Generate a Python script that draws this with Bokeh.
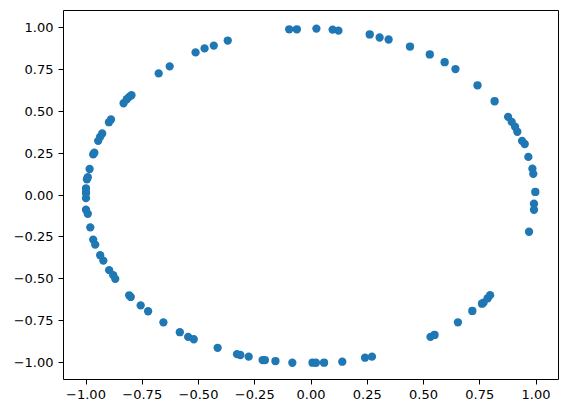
from bokeh.plotting import figure
from bokeh.models import FixedTicker, CustomJSTickFormatter, Range1d
from bokeh.embed import file_html
from bokeh.resources import INLINE

xs = [-0.097, -0.063, -0.370, -0.432, -0.473, -0.513, -0.628, -0.677,
      -0.798, -0.808, -0.819, -0.833, -0.889, -0.898, -0.928, -0.937, -0.946,
      -0.963, -0.968, -0.984, -0.992, -0.996, -1.000, -1.000, -1.000, -1.000,
      -1.000, -0.992, -0.981, -0.968, -0.959, -0.937, -0.923, -0.897, -0.879,
      -0.870, -0.808, -0.801, -0.757, -0.724, -0.656, -0.583, -0.546, -0.521,
      -0.415, -0.329, -0.314, -0.277, -0.215, -0.205, -0.158, -0.083,
      0.007, 0.022, 0.058, 0.139, 0.240, 0.271, 0.531, 0.549, 0.653, 0.717,
      0.760, 0.767, 0.785, 0.796, 0.969, 0.991, 0.991, 0.997,
      0.024, 0.096, 0.122, 0.261, 0.305, 0.345, 0.440, 0.528, 0.594, 0.642,
      0.740, 0.816, 0.876, 0.892, 0.907, 0.917, 0.938, 0.950, 0.966, 0.984,
      0.988]
ys = [0.988, 0.988, 0.921, 0.891, 0.874, 0.850, 0.767, 0.725,
      0.595, 0.585, 0.571, 0.547, 0.450, 0.434, 0.367, 0.347, 0.323,
      0.252, 0.242, 0.155, 0.106, 0.094, 0.040, 0.017, 0.011, -0.019,
      -0.088, -0.112, -0.193, -0.266, -0.296, -0.359, -0.391, -0.448, -0.478,
      -0.500, -0.598, -0.608, -0.658, -0.693, -0.759, -0.818, -0.846, -0.860,
      -0.911, -0.949, -0.954, -0.964, -0.984, -0.984, -0.990, -1.000,
      -1.000, -1.000, -1.000, -0.994, -0.970, -0.964, -0.846, -0.834, -0.759, -0.691,
      -0.648, -0.642, -0.616, -0.597, -0.219, -0.052, -0.088, 0.018,
      0.992, 0.986, 0.980, 0.957, 0.939, 0.927, 0.885, 0.838, 0.792, 0.751,
      0.654, 0.559, 0.466, 0.436, 0.407, 0.377, 0.323, 0.304, 0.227, 0.157,
      0.126]
tick_values = [-1.0, -0.75, -0.5, -0.25, 0.0, 0.25, 0.5, 0.75, 1.0]

p = figure(width=560, height=405, output_backend="svg", toolbar_location=None,
           x_range=Range1d(-1.1, 1.1), y_range=Range1d(-1.1, 1.1),
           min_border_left=63, min_border_top=10, min_border_right=2,
           min_border_bottom=26)
p.frame_width = 495
p.frame_height = 369
p.background_fill_color = "white"
p.border_fill_color = "white"
p.xgrid.visible = False
p.ygrid.visible = False
p.outline_line_color = "black"
p.outline_line_width = 1
p.outline_line_alpha = 1

fmt = CustomJSTickFormatter(code="return tick.toFixed(2).replace('-', '\u2212');")
for ax in (p.xaxis[0], p.yaxis[0]):
    ax.ticker = FixedTicker(ticks=tick_values)
    ax.formatter = fmt
    ax.axis_line_color = None
    ax.major_tick_in = 0
    ax.major_tick_out = 5
    ax.minor_tick_line_color = None
    ax.major_tick_line_color = "black"
    ax.major_label_text_font = "DejaVu Sans"
    ax.major_label_text_font_size = "13px"
    ax.major_label_text_color = "black"
    ax.major_label_standoff = 5

p.scatter(xs, ys, size=8.3, color="#1f77b4", line_color=None)

open("out.html", "w").write(file_html(p, INLINE))
